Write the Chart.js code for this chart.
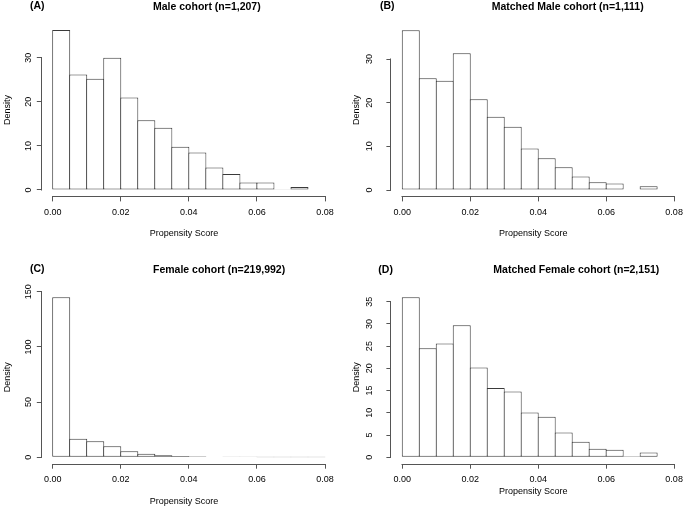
<!DOCTYPE html>
<html>
<head>
<meta charset="utf-8">
<script src="https://cdn.jsdelivr.net/npm/chart.js@4.4.1/dist/chart.umd.min.js"></script>
<style>
  html, body { margin: 0; padding: 0; background: #fff; }
  #wrap { position: relative; width: 685px; height: 508px; overflow: hidden; background: #fff; }
  canvas { position: absolute; }
</style>
</head>
<body>
<div id="wrap">
  <canvas id="cA" width="342" height="254" style="left:0;top:0"></canvas>
  <canvas id="cB" width="343" height="254" style="left:342px;top:0"></canvas>
  <canvas id="cC" width="342" height="254" style="left:0;top:254px"></canvas>
  <canvas id="cD" width="343" height="254" style="left:342px;top:254px"></canvas>
</div>
<script>
// histogram bins, width 0.005
const binMids = [0.0025, 0.0075, 0.0125, 0.0175, 0.0225, 0.0275, 0.0325, 0.0375,
                 0.0425, 0.0475, 0.0525, 0.0575, 0.0625, 0.0675, 0.0725, 0.0775];
const binWidth = 0.005;
const xTicks = [0, 0.02, 0.04, 0.06, 0.08];

// densities
const maleDensity = [36.3, 26.2, 25.2, 30.0, 21.0, 15.8, 14.1, 9.8, 8.5, 5.1, 3.6, 1.7, 1.7, 0.15, 0.7];
const matchedMaleDensity = [36.6, 25.6, 25.0, 31.3, 20.8, 16.8, 14.5, 9.5, 7.3, 5.2, 3.1, 1.8, 1.5, 0, 0.85];
const femaleDensity = [145, 16.9, 14.5, 10.0, 5.4, 3.3, 1.8, 1.2, 0.9, 0.5, 0.3, 0.2, 0.15, 0.1, 0.08, 0.05];
const matchedFemaleDensity = [36.0, 24.5, 25.6, 29.7, 20.2, 15.6, 14.8, 10.1, 9.1, 5.6, 3.5, 1.9, 1.7, 0.25, 1.1];

const maleYTicks = [0, 10, 20, 30];
const femaleYTicks = [0, 50, 100, 150];
const matchedFemaleYTicks = [0, 5, 10, 15, 20, 25, 30, 35];

const FONT = "'Liberation Sans', Arial, Helvetica, sans-serif";
const X_MIN = -0.0032, X_MAX = 0.0832;
const Y_AXIS_W = 41.8;
const X_AXIS_H = 40;

const panels = [
  { id: "cA", box: {x: 0, y: 0, w: 342, h: 254}, area: {l: 41.8, r: 335.9, t: 23.5, b: 196.4},
    values: maleDensity, yTicks: maleYTicks, yLabOff: 13.3, tag: "(A)", tagPos: [30, 6.5],
    title: "Male cohort (n=1,207)", titlePos: [153, 7.5], xlabPos: [184, 233.3] },
  { id: "cB", box: {x: 342, y: 0, w: 343, h: 254}, area: {l: 391.4, r: 685, t: 23.8, b: 196.4},
    values: matchedMaleDensity, yTicks: maleYTicks, yLabOff: 21.5, tag: "(B)", tagPos: [380, 6.5],
    title: "Matched Male cohort (n=1,111)", titlePos: [491.7, 7.5], xlabPos: [533.3, 233.3] },
  { id: "cC", box: {x: 0, y: 254, w: 342, h: 254}, area: {l: 41.8, r: 335.9, t: 290.8, b: 463.7},
    values: femaleDensity, yTicks: femaleYTicks, yLabOff: 13.3, tag: "(C)", tagPos: [30, 269.5],
    title: "Female cohort (n=219,992)", titlePos: [153, 269.7], xlabPos: [184, 501.3] },
  { id: "cD", box: {x: 342, y: 254, w: 343, h: 254}, area: {l: 391.4, r: 685, t: 290.8, b: 463.7},
    values: matchedFemaleDensity, yTicks: matchedFemaleYTicks, yLabOff: 21.5, tag: "(D)", tagPos: [378.3, 270.5],
    title: "Matched Female cohort (n=2,151)", titlePos: [493.3, 270.5], xlabPos: [533.3, 492] }
];

// R style axes: line only from first to last tick, plus panel texts
const rAxes = {
  id: "rAxes",
  afterDraw(chart, args, opts) {
    const ctx = chart.ctx;
    const a = chart.chartArea;
    const xs = chart.scales.x, ys = chart.scales.y;
    ctx.save();
    ctx.strokeStyle = "#555";
    ctx.lineWidth = 1;
    ctx.beginPath();
    const yb = Math.round(a.bottom) + 0.5;
    ctx.moveTo(Math.round(xs.getPixelForValue(xs.ticks[0].value)) - 0.5, yb);
    ctx.lineTo(Math.round(xs.getPixelForValue(xs.ticks[xs.ticks.length - 1].value)) + 0.5, yb);
    const xl = Math.round(a.left) - 0.5;
    ctx.moveTo(xl, Math.round(ys.getPixelForValue(ys.ticks[0].value)) + 0.5);
    ctx.lineTo(xl, Math.round(ys.getPixelForValue(ys.ticks[ys.ticks.length - 1].value)) - 0.5);
    ctx.stroke();

    const p = opts.panel;
    ctx.fillStyle = "#000";
    ctx.textBaseline = "middle";
    ctx.font = "bold 10.5px " + FONT;
    ctx.textAlign = "left";
    ctx.fillText(p.tag, p.tagPos[0] - p.box.x, p.tagPos[1] - p.box.y);
    ctx.fillText(p.title, p.titlePos[0] - p.box.x, p.titlePos[1] - p.box.y);
    ctx.font = "9px " + FONT;
    ctx.textAlign = "center";
    ctx.fillText("Propensity Score", p.xlabPos[0] - p.box.x, p.xlabPos[1] - p.box.y);
    ctx.restore();
  }
};

panels.forEach(p => {
  const ymax = Math.max(...p.values);
  const widest = Math.max(...p.yTicks.map(v => String(v).length)) * 5;
  // bars 1px wider than the bin so neighbouring outlines overlap into one line
  const binPx = binWidth * (p.area.r - p.area.l) / (X_MAX - X_MIN);
  new Chart(document.getElementById(p.id), {
    type: "bar",
    data: {
      datasets: [{
        data: p.values.map((v, i) => ({x: binMids[i], y: v})),
        backgroundColor: "#fff",
        borderColor: "#3a3a3a",
        borderSkipped: false,
        borderWidth: 1,
        barPercentage: (binPx + 1) / binPx,
        categoryPercentage: 1
      }]
    },
    options: {
      responsive: false,
      animation: false,
      layout: {
        padding: {
          left: p.area.l - p.box.x - Y_AXIS_W,
          top: p.area.t - p.box.y,
          right: Math.max(p.box.x + p.box.w - p.area.r, 0),
          bottom: p.box.y + p.box.h - p.area.b - X_AXIS_H
        }
      },
      plugins: {
        legend: { display: false },
        tooltip: { enabled: false },
        rAxes: { panel: p }
      },
      scales: {
        x: {
          type: "linear",
          offset: false,
          min: X_MIN,
          max: X_MAX,
          afterBuildTicks: s => { s.ticks = xTicks.map(v => ({value: v})); },
          afterFit: s => { s.height = X_AXIS_H; s.paddingLeft = 0; s.paddingRight = 0; },
          grid: { display: true, offset: false, drawOnChartArea: false, drawTicks: true, tickLength: 5, color: "#555" },
          border: { display: false },
          ticks: {
            autoSkip: false, maxRotation: 0, padding: 5.5, color: "#000",
            font: { family: FONT, size: 9 },
            callback: v => v.toFixed(2)
          }
        },
        y: {
          min: -0.04 * ymax,
          max: 1.04 * ymax,
          afterBuildTicks: s => { s.ticks = p.yTicks.map(v => ({value: v})); },
          afterFit: s => { s.width = Y_AXIS_W; s.paddingTop = 0; s.paddingBottom = 0; },
          grid: { display: true, drawOnChartArea: false, drawTicks: true, tickLength: 5, color: "#555" },
          border: { display: false },
          title: { display: true, text: "Density", color: "#000", font: { family: FONT, size: 9 }, padding: { top: 2, bottom: 0 } },
          ticks: {
            autoSkip: false, minRotation: 90, maxRotation: 90, crossAlign: "center",
            padding: p.yLabOff - 5 - widest / 2, color: "#000",
            font: { family: FONT, size: 9 },
            callback: v => String(v)
          }
        }
      }
    },
    plugins: [rAxes]
  });
});
</script>
</body>
</html>
